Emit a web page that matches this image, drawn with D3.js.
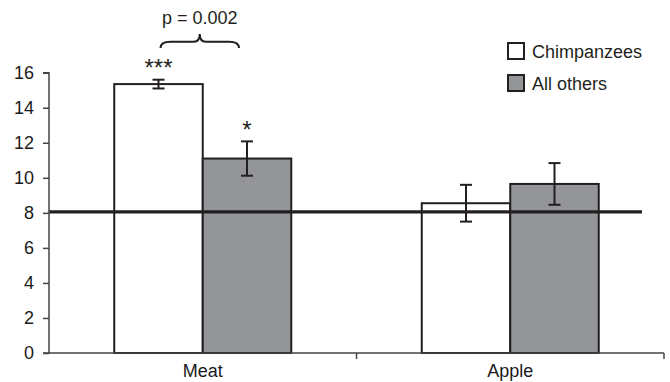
<!DOCTYPE html>
<html>
<head>
<meta charset="utf-8">
<script src="https://cdn.jsdelivr.net/npm/d3@7"></script>
<style>
  body { margin: 0; background: #fff; }
  svg { display: block; font-family: "Liberation Sans", Arial, sans-serif; }
</style>
</head>
<body>
<svg id="chart" width="670" height="382"></svg>
<script>
// ---- data ----
const categories = ["Meat", "Apple"];
const series = ["Chimpanzees", "All others"];
const chimpValues = [15.35, 8.55];
const chimpErrors = [0.25, 1.05];
const otherValues = [11.1, 9.65];
const otherErrors = [0.98, 1.19];
const significance = [["***", "*"], ["", ""]];
const yTicks = [0, 2, 4, 6, 8, 10, 12, 14, 16];
const referenceValue = 8.05;
const pLabel = "p = 0.002";

(function () {
const colors = { "Chimpanzees": "#ffffff", "All others": "#939598" };
const ink = "#231f20";

const data = categories.map((c, i) => ({
  cat: c,
  bars: [
    { s: series[0], v: chimpValues[i], e: chimpErrors[i], sig: significance[i][0] },
    { s: series[1], v: otherValues[i], e: otherErrors[i], sig: significance[i][1] }
  ]
}));

const svg = d3.select("#chart");
const mLeft = 49, mRight = 664, mTop = 72.7, mBottom = 353;

const x = d3.scaleBand().domain(categories).range([mLeft, mRight]).padding(0);
const bw = x.bandwidth();
const barW = 88.5;
const x1 = d3.scaleBand().domain(series).range([(bw - 2 * barW) / 2, (bw + 2 * barW) / 2]).padding(0);
const y = d3.scaleLinear().domain([0, 16]).range([mBottom, mTop]);

// bars
const g = svg.append("g");
const groups = g.selectAll("g.cat").data(data).join("g")
  .attr("class", "cat")
  .attr("transform", d => `translate(${x(d.cat)},0)`);

groups.selectAll("rect").data(d => d.bars).join("rect")
  .attr("x", d => x1(d.s))
  .attr("y", d => y(d.v))
  .attr("width", x1.bandwidth())
  .attr("height", d => y(0) - y(d.v))
  .attr("fill", d => colors[d.s])
  .attr("stroke", ink)
  .attr("stroke-width", 2);

// reference line
svg.append("line")
  .attr("x1", mLeft).attr("x2", 642)
  .attr("y1", y(referenceValue)).attr("y2", y(referenceValue))
  .attr("stroke", ink).attr("stroke-width", 3.2);

// error bars
const cap = 6;
groups.each(function(d) {
  const gg = d3.select(this);
  d.bars.forEach(b => {
    const cx = x1(b.s) + x1.bandwidth() / 2;
    const eg = gg.append("g").attr("stroke", ink).attr("stroke-width", 2);
    eg.append("line").attr("x1", cx).attr("x2", cx).attr("y1", y(b.v + b.e)).attr("y2", y(b.v - b.e));
    eg.append("line").attr("x1", cx - cap).attr("x2", cx + cap).attr("y1", y(b.v + b.e)).attr("y2", y(b.v + b.e));
    eg.append("line").attr("x1", cx - cap).attr("x2", cx + cap).attr("y1", y(b.v - b.e)).attr("y2", y(b.v - b.e));
    if (b.sig) {
      gg.append("text")
        .attr("x", cx).attr("y", y(b.v + b.e) - 3.5)
        .attr("text-anchor", "middle")
        .attr("font-size", 24)
        .attr("fill", ink)
        .text(b.sig);
    }
  });
});

// y axis
const yAxis = svg.append("g")
  .attr("transform", `translate(${mLeft},0)`)
  .call(d3.axisLeft(y).tickValues(yTicks).tickSize(6).tickPadding(9));
yAxis.selectAll("text").attr("font-size", 18).attr("fill", "#1a1a1a").attr("font-family", "Liberation Sans, Arial, sans-serif");
yAxis.selectAll("line").attr("stroke", "#444").attr("stroke-width", 1.5);
yAxis.select(".domain").attr("stroke", "#444").attr("stroke-width", 1.5).attr("d", `M-6,${mTop}H0V${mBottom}H-6`);

// x axis
const xAxis = svg.append("g")
  .attr("transform", `translate(0,${mBottom})`)
  .call(d3.axisBottom(x).tickSize(0).tickPadding(11));
xAxis.selectAll("text").attr("font-size", 18).attr("fill", "#1a1a1a").attr("font-family", "Liberation Sans, Arial, sans-serif");
xAxis.select(".domain").attr("stroke", "#444").attr("stroke-width", 1.5).attr("d", `M${mLeft},0H${mRight}`);
xAxis.selectAll("line.sep").data(categories).join("line")
  .attr("class", "sep")
  .attr("x1", d => x(d) + bw).attr("x2", d => x(d) + bw)
  .attr("y1", 0).attr("y2", 6)
  .attr("stroke", "#444").attr("stroke-width", 1.5);

// brace + p label
const meatX = x("Meat");
const bl = meatX + x1(series[0]) + x1.bandwidth() / 2 + 2;
const br = meatX + x1(series[1]) + x1.bandwidth() / 2 - 8;
const bm = (bl + br) / 2;
const yEnd = 48, yLine = 41.7, yPeak = 34;
svg.append("path")
  .attr("d", `M${bl},${yEnd} Q${bl},${yLine} ${bl + 10},${yLine} H${bm - 6} Q${bm},${yLine} ${bm},${yPeak} Q${bm},${yLine} ${bm + 6},${yLine} H${br - 10} Q${br},${yLine} ${br},${yEnd}`)
  .attr("fill", "none").attr("stroke", ink).attr("stroke-width", 2);
svg.append("text")
  .attr("x", bm).attr("y", 24)
  .attr("text-anchor", "middle").attr("font-size", 18).attr("fill", ink)
  .text(pLabel);

// legend
const legend = svg.append("g").attr("transform", "translate(508,43)");
series.forEach((s, i) => {
  const lg = legend.append("g").attr("transform", `translate(0,${i * 32})`);
  lg.append("rect").attr("width", 16).attr("height", 16)
    .attr("fill", colors[s]).attr("stroke", ink).attr("stroke-width", 2);
  lg.append("text").attr("x", 24).attr("y", 14.5)
    .attr("font-size", 18).attr("fill", ink).text(s);
});
})();
</script>
</body>
</html>
